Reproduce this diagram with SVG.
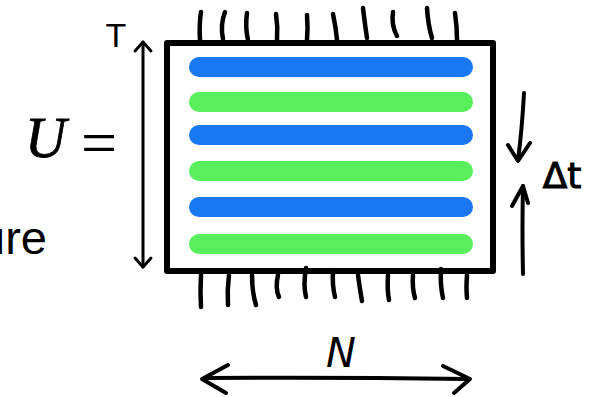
<svg xmlns="http://www.w3.org/2000/svg" width="597" height="397" viewBox="0 0 597 397">
<defs>
<style>
.ink{fill:none;stroke:#000;stroke-linecap:round;stroke-linejoin:round}
.hair{fill:none;stroke:#000;stroke-width:4.5;stroke-linecap:round}
.blue{stroke:#1a78f2;stroke-width:20;stroke-linecap:round}
.green{stroke:#58ee5c;stroke-width:20;stroke-linecap:round}
.hand{font-family:"DejaVu Sans",sans-serif;fill:#000}
</style>
</defs>
<rect width="597" height="397" fill="#fff"/>
<g id="label-ure"><text x="47" y="254" font-family="Liberation Sans, Arial, sans-serif" font-size="47" text-anchor="end">ure</text></g>
<g id="label-U"><text x="25" y="157" font-family="Liberation Serif, Times New Roman, serif" font-size="57" font-style="italic" stroke="#000" stroke-width="0.8">U</text>
<text x="81" y="164" font-family="Liberation Serif, Times New Roman, serif" font-size="64">=</text></g>
<g id="label-T"><text x="116" y="47" font-family="Liberation Sans, Arial, sans-serif" font-size="34" text-anchor="middle">T</text></g>
<g id="box">
<rect x="167" y="43" width="326" height="228" fill="#fff" stroke="#000" stroke-width="6" stroke-linejoin="round"/>
<line class="blue" x1="199" y1="67" x2="463" y2="67"/>
<line class="green" x1="199" y1="102" x2="463" y2="102"/>
<line class="blue" x1="199" y1="135" x2="463" y2="135"/>
<line class="green" x1="199" y1="171" x2="463" y2="171"/>
<line class="blue" x1="199" y1="207" x2="463" y2="207"/>
<line class="green" x1="199" y1="244" x2="463" y2="244"/>
</g>
<g id="hairs-top">
<path class="hair" d="M201 12 Q199 25 200 40"/>
<path class="hair" d="M225 12 Q220 25 223 39"/>
<path class="hair" d="M247 13 Q245 27 248 40"/>
<path class="hair" d="M276 14 Q278 27 277 40"/>
<path class="hair" d="M307 15 Q308 28 307 40"/>
<path class="hair" d="M333 14 Q336 28 337 40"/>
<path class="hair" d="M363 8 Q365 25 367 38"/>
<path class="hair" d="M393 12 Q391 25 397 36"/>
<path class="hair" d="M427 8 Q428 25 432 38"/>
<path class="hair" d="M455 13 Q457 27 457 40"/>
</g>
<g id="hairs-bottom">
<path class="hair" d="M201 275 Q200 292 201 307"/>
<path class="hair" d="M229 275 Q227 290 228 305"/>
<path class="hair" d="M252 275 Q252 292 256 305"/>
<path class="hair" d="M278 275 Q275 288 279 297"/>
<path class="hair" d="M306 268 Q303 285 306 297"/>
<path class="hair" d="M333 270 Q332 285 335 297"/>
<path class="hair" d="M358 275 Q360 290 362 301"/>
<path class="hair" d="M388 275 Q387 290 389 300"/>
<path class="hair" d="M413 275 Q412 288 415 298"/>
<path class="hair" d="M441 269 Q440 285 443 298"/>
<path class="hair" d="M467 275 Q466 288 467 298"/>
</g>
<g id="connectors">
<g id="arrow-T">
<line class="ink" stroke-width="3" x1="143" y1="42" x2="143" y2="267"/>
<polyline class="ink" stroke-width="3" points="135,51 143,42 151,51"/>
<polyline class="ink" stroke-width="3" points="135,258 143,267 151,258"/>
</g>
<g id="arrow-N">
<path class="ink" stroke-width="4" d="M205 378 Q330 377 467 379"/>
<polyline class="ink" stroke-width="4" points="228,365 202,379 226,393"/>
<polyline class="ink" stroke-width="4" points="443,366 470,379 454,393"/>
</g>
<g id="arrows-dt">
<path class="ink" stroke-width="4" d="M524 93 Q522 130 518 160"/>
<polyline class="ink" stroke-width="4" points="508,145 518,161 530,143"/>
<path class="ink" stroke-width="4" d="M523 274 Q522 230 523 186"/>
<polyline class="ink" stroke-width="4" points="512,206 523,186 528,203"/>
</g>
</g>
<g id="label-N"><text class="hand" x="341" y="367" font-size="40" text-anchor="middle" font-style="italic">N</text></g>
<g id="label-dt"><text class="hand" x="562" y="188" font-size="36" text-anchor="middle" stroke="#000" stroke-width="1">Δt</text></g>
</svg>
